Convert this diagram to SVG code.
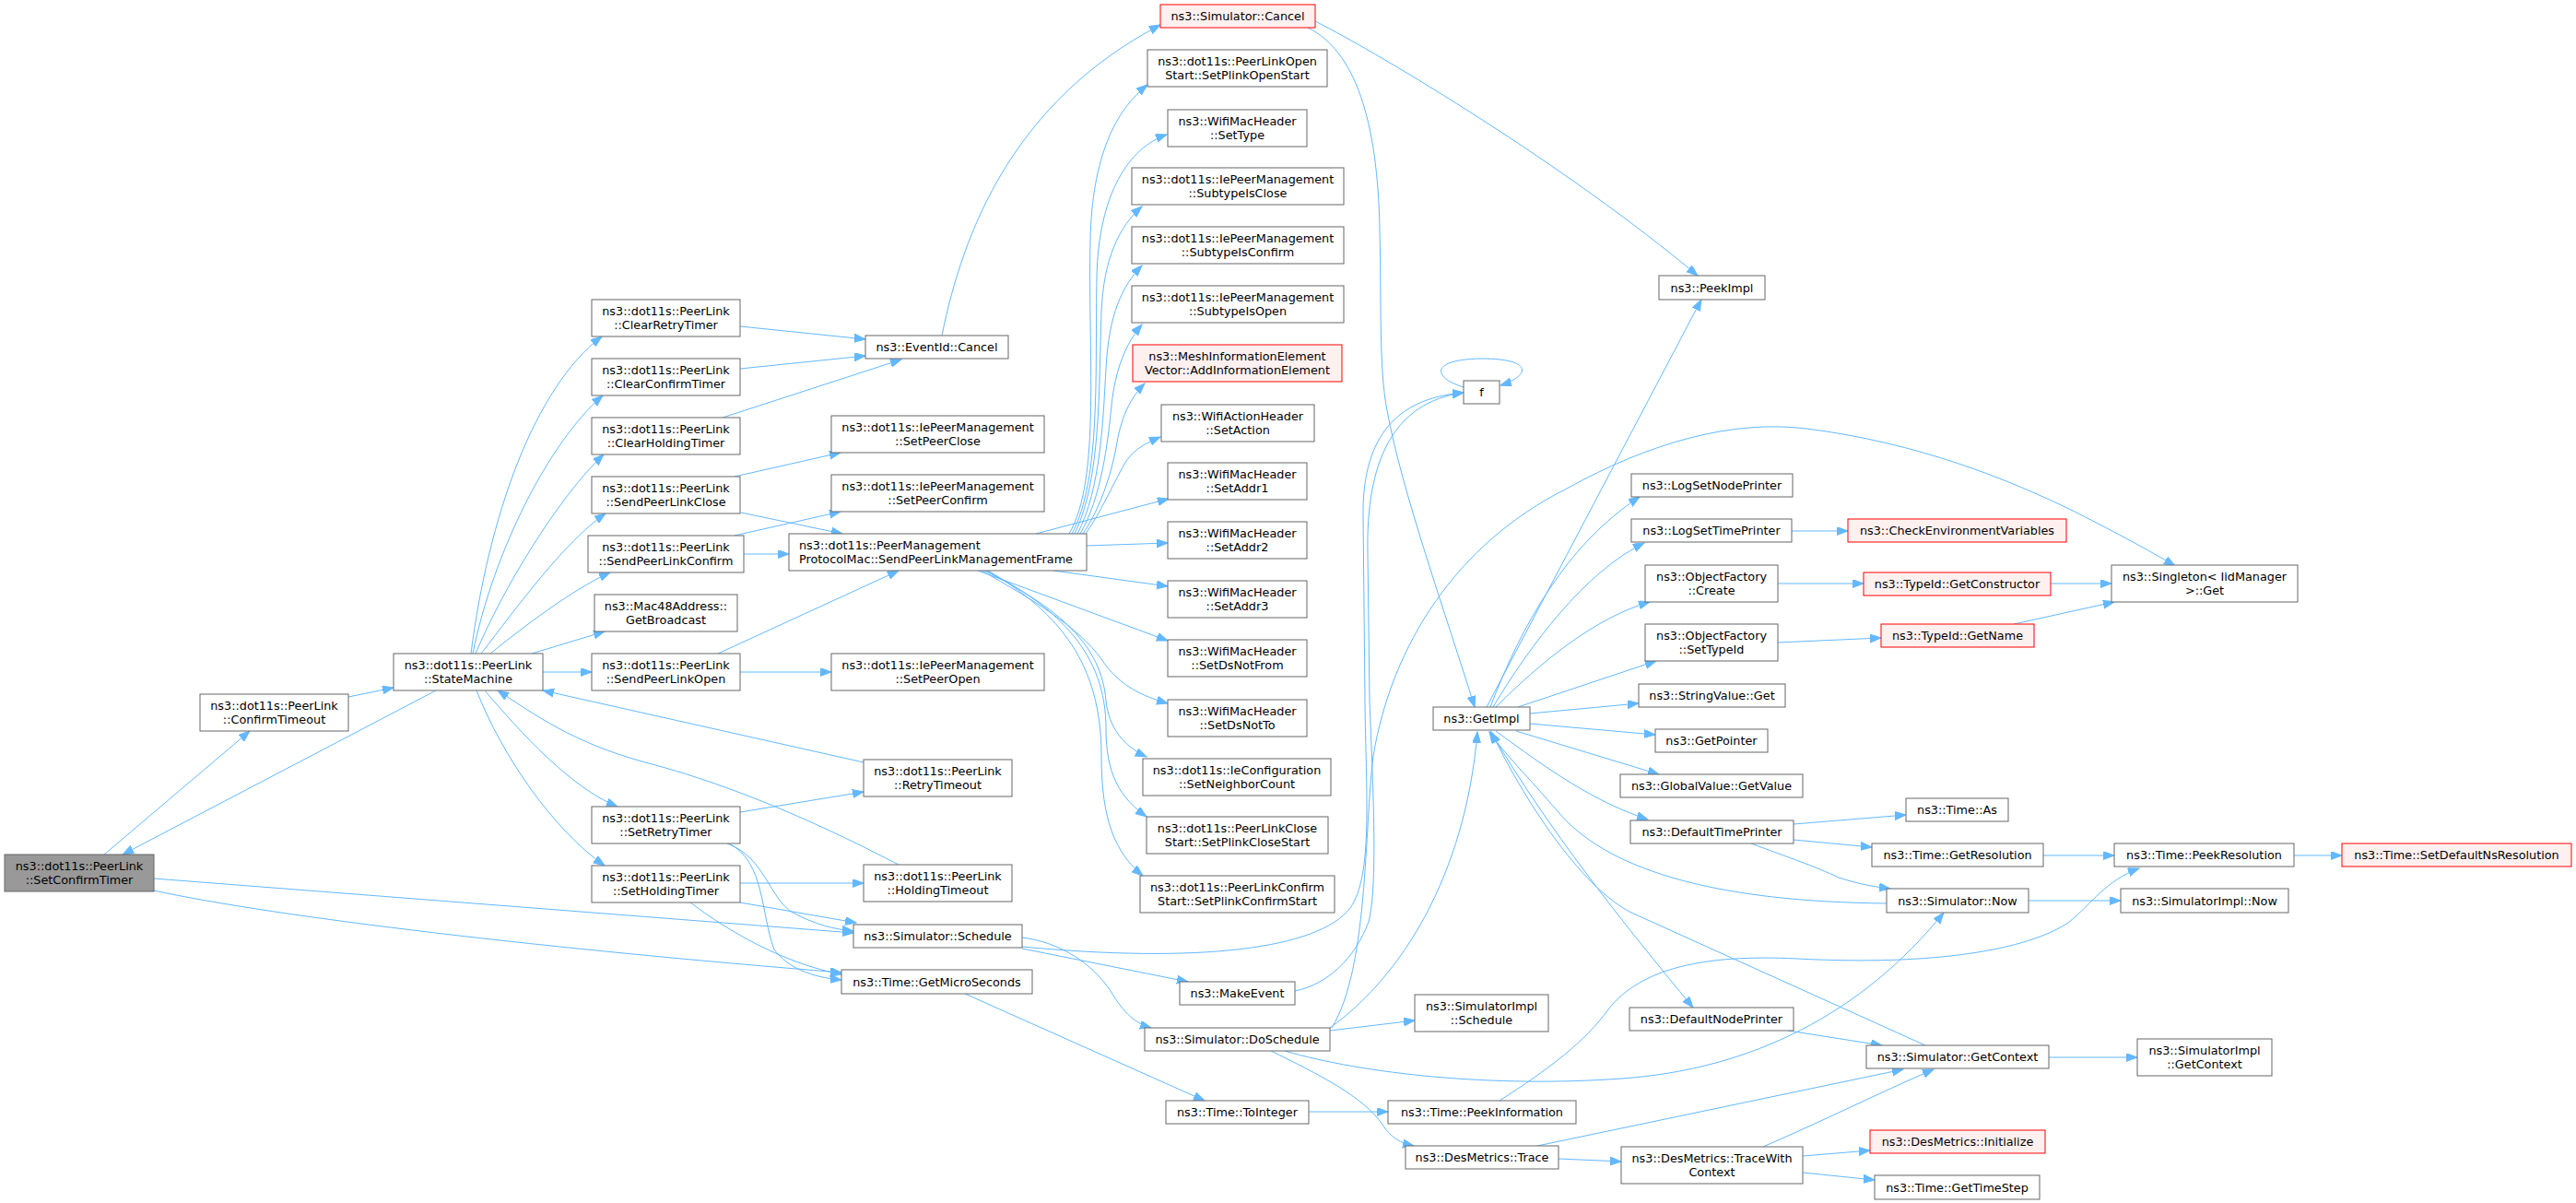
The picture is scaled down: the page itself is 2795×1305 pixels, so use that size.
<svg xmlns="http://www.w3.org/2000/svg" width="2795" height="1305" viewBox="0 0 2795 1305">
<style>
.n rect{fill:#ffffff;stroke:#666666;stroke-width:1}
.r rect{fill:#fff0f0;stroke:#ff0000;stroke-width:1}
.root rect{fill:#999999;stroke:#666666;stroke-width:1}
text{font-family:"DejaVu Sans","Liberation Sans",sans-serif;font-size:12.8px;fill:#000000;text-anchor:middle}
text.l{text-anchor:start}
#edges path{fill:none;stroke:#63b8ff;stroke-width:1;marker-end:url(#ah)}
</style>
<defs>
<marker id="ah" markerUnits="userSpaceOnUse" markerWidth="13" markerHeight="10" refX="12" refY="4.5" orient="auto">
<path d="M0,0 L12,4.5 L0,9 z" fill="#63b8ff" stroke="#63b8ff" stroke-width="1"/>
</marker>
</defs>
<rect width="2795" height="1305" fill="#ffffff"/>
<g id="edges">
<path d="M113,927 L271,793"/>
<path d="M473,749 L133,927"/>
<path d="M378,756 L427,746"/>
<path d="M167,953 L926,1012"/>
<path d="M167,966 C300,995 600,1030 913,1055"/>
<path d="M511,709 C530,560 580,420 653,365"/>
<path d="M513,709 C535,600 595,480 654,429"/>
<path d="M516,709 C545,640 605,540 655,493"/>
<path d="M522,709 C560,660 612,588 657,557"/>
<path d="M532,709 C580,670 630,635 662,621"/>
<path d="M577,709 L656,685"/>
<path d="M589,729 L642,729"/>
<path d="M526,749 C565,795 620,855 670,875"/>
<path d="M517,749 C545,820 600,900 656,939"/>
<path d="M937,827 L589,749"/>
<path d="M975,938 C930,915 820,858 700,827 C620,805 580,775 540,749"/>
<path d="M803,354 L939,368"/>
<path d="M803,400 L939,386"/>
<path d="M784,453 L978,390"/>
<path d="M1022,364 C1045,250 1100,110 1259,27"/>
<path d="M797,517 L912,491"/>
<path d="M804,556 L914,579"/>
<path d="M797,581 L912,555"/>
<path d="M807,601 L856,601"/>
<path d="M779,709 L975,619"/>
<path d="M803,729 L902,729"/>
<path d="M1160,579 C1195,520 1180,380 1183,260 C1185,170 1210,120 1245,92"/>
<path d="M1163,579 C1195,520 1188,400 1190,300 C1192,210 1225,160 1266,146"/>
<path d="M1166,579 C1195,520 1192,420 1195,340 C1197,280 1215,245 1239,224"/>
<path d="M1169,579 C1195,530 1197,450 1200,400 C1203,340 1218,310 1239,288"/>
<path d="M1172,579 C1195,540 1202,480 1206,440 C1210,400 1222,372 1239,352"/>
<path d="M1175,579 C1195,550 1207,510 1212,480 C1217,450 1228,430 1242,416"/>
<path d="M1178,579 C1195,555 1210,520 1222,500 C1232,486 1245,480 1259,474"/>
<path d="M1124,579 L1268,541"/>
<path d="M1179,592 L1267,589"/>
<path d="M1143,619 L1267,636"/>
<path d="M1061,619 L1267,695"/>
<path d="M1065,619 C1120,650 1170,680 1195,715 C1215,745 1240,755 1267,763"/>
<path d="M1068,619 C1150,660 1195,700 1200,760 C1203,790 1220,810 1244,821"/>
<path d="M1070,619 C1150,660 1200,710 1200,790 C1200,840 1215,865 1244,886"/>
<path d="M1072,619 C1150,665 1195,720 1195,820 C1195,890 1210,925 1240,950"/>
<path d="M1427,23 C1500,60 1700,180 1842,299"/>
<path d="M1419,30 C1470,55 1495,130 1497,250 C1499,330 1496,400 1505,445 C1520,530 1570,670 1600,767"/>
<path d="M1613,767 L1846,325"/>
<path d="M1617,767 C1650,680 1700,590 1779,539"/>
<path d="M1620,767 C1660,700 1720,620 1784,589"/>
<path d="M1623,767 C1670,720 1730,670 1790,653"/>
<path d="M1647,767 L1797,717"/>
<path d="M1660,774 L1778,763"/>
<path d="M1660,785 L1796,797"/>
<path d="M1645,793 L1800,840"/>
<path d="M1623,793 C1680,835 1730,870 1788,889"/>
<path d="M1617,793 C1680,900 1760,1000 1837,1093"/>
<path d="M2047,980 C1850,978 1740,940 1690,880 C1660,845 1630,815 1616,794"/>
<path d="M2089,1134 L1770,990 C1720,965 1660,880 1618,794"/>
<path d="M1443,1115 C1520,1060 1590,950 1603,794"/>
<path d="M1445,1115 C1485,1050 1480,900 1490,820 C1510,700 1580,590 1700,530 C1790,480 1880,455 1960,465 C2080,480 2180,520 2253,556 C2300,580 2330,596 2360,614"/>
<path d="M1109,1027 C1300,1045 1430,1030 1465,985 C1490,950 1482,860 1481,760 L1479,560 C1478,480 1510,432 1588,426"/>
<path d="M1405,1075 C1440,1068 1470,1040 1485,1000 C1495,960 1490,860 1486,760 L1484,600 C1482,500 1512,436 1588,426"/>
<path d="M1588,420 C1555,410 1550,390 1607,389 C1665,389 1660,408 1628,418"/>
<path d="M1109,1017 C1150,1022 1185,1045 1205,1075 C1220,1100 1232,1110 1249,1115"/>
<path d="M1109,1029 L1289,1065"/>
<path d="M1443,1118 L1535,1107"/>
<path d="M1379,1140 C1430,1165 1480,1190 1500,1220 C1510,1235 1520,1240 1534,1243"/>
<path d="M1394,1140 C1480,1165 1620,1180 1760,1170 C1900,1160 2020,1100 2109,990"/>
<path d="M1627,1194 C1680,1160 1720,1130 1745,1095 C1780,1050 1850,1035 1950,1040 C2100,1048 2200,1030 2244,1001 C2270,980 2285,955 2321,942"/>
<path d="M1047,1078 L1307,1194"/>
<path d="M1420,1206 L1506,1206"/>
<path d="M1668,1243 L2065,1160"/>
<path d="M1691,1257 L1759,1260"/>
<path d="M1913,1244 C1980,1215 2040,1185 2098,1160"/>
<path d="M1956,1254 L2029,1248"/>
<path d="M1956,1272 L2034,1280"/>
<path d="M1940,1118 L2042,1134"/>
<path d="M2223,1147 L2319,1147"/>
<path d="M1946,894 L2068,884"/>
<path d="M1946,911 L2031,919"/>
<path d="M1900,915 C1940,930 1970,940 1995,952 C2020,960 2035,962 2051,964"/>
<path d="M2201,977 L2301,977"/>
<path d="M2217,928 L2294,928"/>
<path d="M2489,928 L2541,928"/>
<path d="M1944,576 L2005,576"/>
<path d="M1929,633 L2022,633"/>
<path d="M2225,633 L2291,633"/>
<path d="M1929,697 L2041,692"/>
<path d="M2185,677 L2294,653"/>
<path d="M803,881 L937,859"/>
<path d="M789,915 C830,930 835,975 860,990 C885,1003 905,1008 926,1010"/>
<path d="M791,915 C830,935 825,990 840,1030 C855,1050 880,1060 913,1063"/>
<path d="M803,958 L937,958"/>
<path d="M803,979 L929,1001"/>
<path d="M749,979 C790,1010 850,1045 913,1057"/>
</g>
<g id="n_root" class="root"><rect x="5" y="927" width="162" height="40"/><text x="86" y="943.5">ns3::dot11s::PeerLink</text><text x="86" y="958.5">::SetConfirmTimer</text></g>
<g id="n_confirmtimeout" class="n"><rect x="217" y="753" width="161" height="40"/><text x="297.5" y="769.5">ns3::dot11s::PeerLink</text><text x="297.5" y="784.5">::ConfirmTimeout</text></g>
<g id="n_statemachine" class="n"><rect x="427" y="709" width="162" height="40"/><text x="508" y="725.5">ns3::dot11s::PeerLink</text><text x="508" y="740.5">::StateMachine</text></g>
<g id="n_clearretry" class="n"><rect x="642" y="325" width="161" height="40"/><text x="722.5" y="341.5">ns3::dot11s::PeerLink</text><text x="722.5" y="356.5">::ClearRetryTimer</text></g>
<g id="n_clearconfirm" class="n"><rect x="642" y="389" width="161" height="40"/><text x="722.5" y="405.5">ns3::dot11s::PeerLink</text><text x="722.5" y="420.5">::ClearConfirmTimer</text></g>
<g id="n_clearholding" class="n"><rect x="642" y="453" width="161" height="40"/><text x="722.5" y="469.5">ns3::dot11s::PeerLink</text><text x="722.5" y="484.5">::ClearHoldingTimer</text></g>
<g id="n_sendclose" class="n"><rect x="642" y="517" width="161" height="40"/><text x="722.5" y="533.5">ns3::dot11s::PeerLink</text><text x="722.5" y="548.5">::SendPeerLinkClose</text></g>
<g id="n_sendconfirm" class="n"><rect x="638" y="581" width="169" height="40"/><text x="722.5" y="597.5">ns3::dot11s::PeerLink</text><text x="722.5" y="612.5">::SendPeerLinkConfirm</text></g>
<g id="n_getbroadcast" class="n"><rect x="645" y="645" width="155" height="40"/><text x="722.5" y="661.5">ns3::Mac48Address::</text><text x="722.5" y="676.5">GetBroadcast</text></g>
<g id="n_sendopen" class="n"><rect x="642" y="709" width="161" height="40"/><text x="722.5" y="725.5">ns3::dot11s::PeerLink</text><text x="722.5" y="740.5">::SendPeerLinkOpen</text></g>
<g id="n_setretry" class="n"><rect x="642" y="875" width="161" height="40"/><text x="722.5" y="891.5">ns3::dot11s::PeerLink</text><text x="722.5" y="906.5">::SetRetryTimer</text></g>
<g id="n_setholding" class="n"><rect x="642" y="939" width="161" height="40"/><text x="722.5" y="955.5">ns3::dot11s::PeerLink</text><text x="722.5" y="970.5">::SetHoldingTimer</text></g>
<g id="n_eventcancel" class="n"><rect x="939" y="364" width="155" height="25"/><text x="1016.5" y="381">ns3::EventId::Cancel</text></g>
<g id="n_setpeerclose" class="n"><rect x="902" y="451" width="231" height="40"/><text x="1017.5" y="467.5">ns3::dot11s::IePeerManagement</text><text x="1017.5" y="482.5">::SetPeerClose</text></g>
<g id="n_setpeerconfirm" class="n"><rect x="902" y="515" width="231" height="40"/><text x="1017.5" y="531.5">ns3::dot11s::IePeerManagement</text><text x="1017.5" y="546.5">::SetPeerConfirm</text></g>
<g id="n_frame" class="n"><rect x="856" y="579" width="323" height="40"/><text class="l" x="867" y="595.5">ns3::dot11s::PeerManagement</text><text class="l" x="867" y="610.5">ProtocolMac::SendPeerLinkManagementFrame</text></g>
<g id="n_setpeeropen" class="n"><rect x="902" y="709" width="231" height="40"/><text x="1017.5" y="725.5">ns3::dot11s::IePeerManagement</text><text x="1017.5" y="740.5">::SetPeerOpen</text></g>
<g id="n_retrytimeout" class="n"><rect x="937" y="824" width="161" height="40"/><text x="1017.5" y="840.5">ns3::dot11s::PeerLink</text><text x="1017.5" y="855.5">::RetryTimeout</text></g>
<g id="n_holdingtimeout" class="n"><rect x="937" y="938" width="161" height="40"/><text x="1017.5" y="954.5">ns3::dot11s::PeerLink</text><text x="1017.5" y="969.5">::HoldingTimeout</text></g>
<g id="n_schedule" class="n"><rect x="926" y="1003" width="183" height="25"/><text x="1017.5" y="1020">ns3::Simulator::Schedule</text></g>
<g id="n_getmicro" class="n"><rect x="913" y="1052" width="207" height="26"/><text x="1016.5" y="1069.5">ns3::Time::GetMicroSeconds</text></g>
<g id="n_simcancel" class="r"><rect x="1259" y="5" width="168" height="25"/><text x="1343" y="22">ns3::Simulator::Cancel</text></g>
<g id="n_plinkopen" class="n"><rect x="1245" y="54" width="195" height="40"/><text x="1342.5" y="70.5">ns3::dot11s::PeerLinkOpen</text><text x="1342.5" y="85.5">Start::SetPlinkOpenStart</text></g>
<g id="n_settype" class="n"><rect x="1267" y="119" width="151" height="40"/><text x="1342.5" y="135.5">ns3::WifiMacHeader</text><text x="1342.5" y="150.5">::SetType</text></g>
<g id="n_subclose" class="n"><rect x="1228" y="182" width="230" height="40"/><text x="1343" y="198.5">ns3::dot11s::IePeerManagement</text><text x="1343" y="213.5">::SubtypeIsClose</text></g>
<g id="n_subconfirm" class="n"><rect x="1228" y="246" width="230" height="40"/><text x="1343" y="262.5">ns3::dot11s::IePeerManagement</text><text x="1343" y="277.5">::SubtypeIsConfirm</text></g>
<g id="n_subopen" class="n"><rect x="1228" y="310" width="230" height="40"/><text x="1343" y="326.5">ns3::dot11s::IePeerManagement</text><text x="1343" y="341.5">::SubtypeIsOpen</text></g>
<g id="n_addie" class="r"><rect x="1229" y="374" width="227" height="40"/><text x="1342.5" y="390.5">ns3::MeshInformationElement</text><text x="1342.5" y="405.5">Vector::AddInformationElement</text></g>
<g id="n_setaction" class="n"><rect x="1260" y="439" width="166" height="40"/><text x="1343" y="455.5">ns3::WifiActionHeader</text><text x="1343" y="470.5">::SetAction</text></g>
<g id="n_setaddr1" class="n"><rect x="1267" y="502" width="151" height="40"/><text x="1342.5" y="518.5">ns3::WifiMacHeader</text><text x="1342.5" y="533.5">::SetAddr1</text></g>
<g id="n_setaddr2" class="n"><rect x="1267" y="566" width="151" height="40"/><text x="1342.5" y="582.5">ns3::WifiMacHeader</text><text x="1342.5" y="597.5">::SetAddr2</text></g>
<g id="n_setaddr3" class="n"><rect x="1267" y="630" width="151" height="40"/><text x="1342.5" y="646.5">ns3::WifiMacHeader</text><text x="1342.5" y="661.5">::SetAddr3</text></g>
<g id="n_setdsnotfrom" class="n"><rect x="1267" y="694" width="151" height="40"/><text x="1342.5" y="710.5">ns3::WifiMacHeader</text><text x="1342.5" y="725.5">::SetDsNotFrom</text></g>
<g id="n_setdsnotto" class="n"><rect x="1267" y="759" width="151" height="40"/><text x="1342.5" y="775.5">ns3::WifiMacHeader</text><text x="1342.5" y="790.5">::SetDsNotTo</text></g>
<g id="n_setneighbor" class="n"><rect x="1240" y="823" width="204" height="40"/><text x="1342" y="839.5">ns3::dot11s::IeConfiguration</text><text x="1342" y="854.5">::SetNeighborCount</text></g>
<g id="n_plinkclose" class="n"><rect x="1244" y="886" width="197" height="40"/><text x="1342.5" y="902.5">ns3::dot11s::PeerLinkClose</text><text x="1342.5" y="917.5">Start::SetPlinkCloseStart</text></g>
<g id="n_plinkconfirm" class="n"><rect x="1237" y="950" width="211" height="40"/><text x="1342.5" y="966.5">ns3::dot11s::PeerLinkConfirm</text><text x="1342.5" y="981.5">Start::SetPlinkConfirmStart</text></g>
<g id="n_makeevent" class="n"><rect x="1280" y="1065" width="125" height="25"/><text x="1342.5" y="1082">ns3::MakeEvent</text></g>
<g id="n_doschedule" class="n"><rect x="1242" y="1115" width="201" height="25"/><text x="1342.5" y="1132">ns3::Simulator::DoSchedule</text></g>
<g id="n_tointeger" class="n"><rect x="1265" y="1194" width="155" height="25"/><text x="1342.5" y="1211">ns3::Time::ToInteger</text></g>
<g id="n_f" class="n"><rect x="1588" y="413" width="39" height="25"/><text x="1607.5" y="430">f</text></g>
<g id="n_getimpl" class="n"><rect x="1555" y="767" width="105" height="25"/><text x="1607.5" y="784">ns3::GetImpl</text></g>
<g id="n_simimplschedule" class="n"><rect x="1535" y="1079" width="145" height="40"/><text x="1607.5" y="1095.5">ns3::SimulatorImpl</text><text x="1607.5" y="1110.5">::Schedule</text></g>
<g id="n_peekinfo" class="n"><rect x="1506" y="1194" width="204" height="25"/><text x="1608" y="1211">ns3::Time::PeekInformation</text></g>
<g id="n_trace" class="n"><rect x="1525" y="1243" width="166" height="25"/><text x="1608" y="1260">ns3::DesMetrics::Trace</text></g>
<g id="n_peekimpl" class="n"><rect x="1800" y="299" width="115" height="26"/><text x="1857.5" y="316.5">ns3::PeekImpl</text></g>
<g id="n_lognode" class="n"><rect x="1770" y="514" width="175" height="25"/><text x="1857.5" y="531">ns3::LogSetNodePrinter</text></g>
<g id="n_logtime" class="n"><rect x="1770" y="563" width="174" height="25"/><text x="1857" y="580">ns3::LogSetTimePrinter</text></g>
<g id="n_create" class="n"><rect x="1785" y="613" width="144" height="40"/><text x="1857" y="629.5">ns3::ObjectFactory</text><text x="1857" y="644.5">::Create</text></g>
<g id="n_settypeid" class="n"><rect x="1785" y="677" width="144" height="40"/><text x="1857" y="693.5">ns3::ObjectFactory</text><text x="1857" y="708.5">::SetTypeId</text></g>
<g id="n_stringget" class="n"><rect x="1778" y="742" width="159" height="25"/><text x="1857.5" y="759">ns3::StringValue::Get</text></g>
<g id="n_getpointer" class="n"><rect x="1796" y="791" width="122" height="25"/><text x="1857" y="808">ns3::GetPointer</text></g>
<g id="n_globalget" class="n"><rect x="1758" y="840" width="198" height="25"/><text x="1857" y="857">ns3::GlobalValue::GetValue</text></g>
<g id="n_deftime" class="n"><rect x="1769" y="890" width="177" height="25"/><text x="1857.5" y="907">ns3::DefaultTimePrinter</text></g>
<g id="n_defnode" class="n"><rect x="1768" y="1093" width="178" height="25"/><text x="1857" y="1110">ns3::DefaultNodePrinter</text></g>
<g id="n_tracectx" class="n"><rect x="1759" y="1244" width="197" height="40"/><text x="1857.5" y="1260.5">ns3::DesMetrics::TraceWith</text><text x="1857.5" y="1275.5">Context</text></g>
<g id="n_checkenv" class="r"><rect x="2005" y="563" width="237" height="25"/><text x="2123.5" y="580">ns3::CheckEnvironmentVariables</text></g>
<g id="n_getctor" class="r"><rect x="2022" y="621" width="203" height="25"/><text x="2123.5" y="638">ns3::TypeId::GetConstructor</text></g>
<g id="n_getname" class="r"><rect x="2041" y="677" width="166" height="25"/><text x="2124" y="694">ns3::TypeId::GetName</text></g>
<g id="n_timeas" class="n"><rect x="2068" y="866" width="111" height="25"/><text x="2123.5" y="883">ns3::Time::As</text></g>
<g id="n_getres" class="n"><rect x="2031" y="915" width="186" height="25"/><text x="2124" y="932">ns3::Time::GetResolution</text></g>
<g id="n_simnow" class="n"><rect x="2047" y="964" width="154" height="26"/><text x="2124" y="981.5">ns3::Simulator::Now</text></g>
<g id="n_getctx" class="n"><rect x="2025" y="1134" width="198" height="25"/><text x="2124" y="1151">ns3::Simulator::GetContext</text></g>
<g id="n_initialize" class="r"><rect x="2029" y="1226" width="190" height="25"/><text x="2124" y="1243">ns3::DesMetrics::Initialize</text></g>
<g id="n_timestep" class="n"><rect x="2034" y="1275" width="179" height="26"/><text x="2123.5" y="1292.5">ns3::Time::GetTimeStep</text></g>
<g id="n_singleton" class="n"><rect x="2291" y="613" width="202" height="40"/><text x="2392" y="629.5">ns3::Singleton&lt; IidManager</text><text x="2392" y="644.5">&gt;::Get</text></g>
<g id="n_peekres" class="n"><rect x="2294" y="915" width="195" height="25"/><text x="2391.5" y="932">ns3::Time::PeekResolution</text></g>
<g id="n_simimplnow" class="n"><rect x="2301" y="964" width="182" height="26"/><text x="2392" y="981.5">ns3::SimulatorImpl::Now</text></g>
<g id="n_simimplctx" class="n"><rect x="2319" y="1127" width="146" height="40"/><text x="2392" y="1143.5">ns3::SimulatorImpl</text><text x="2392" y="1158.5">::GetContext</text></g>
<g id="n_setdefns" class="r"><rect x="2541" y="915" width="249" height="25"/><text x="2665.5" y="932">ns3::Time::SetDefaultNsResolution</text></g>
</svg>
